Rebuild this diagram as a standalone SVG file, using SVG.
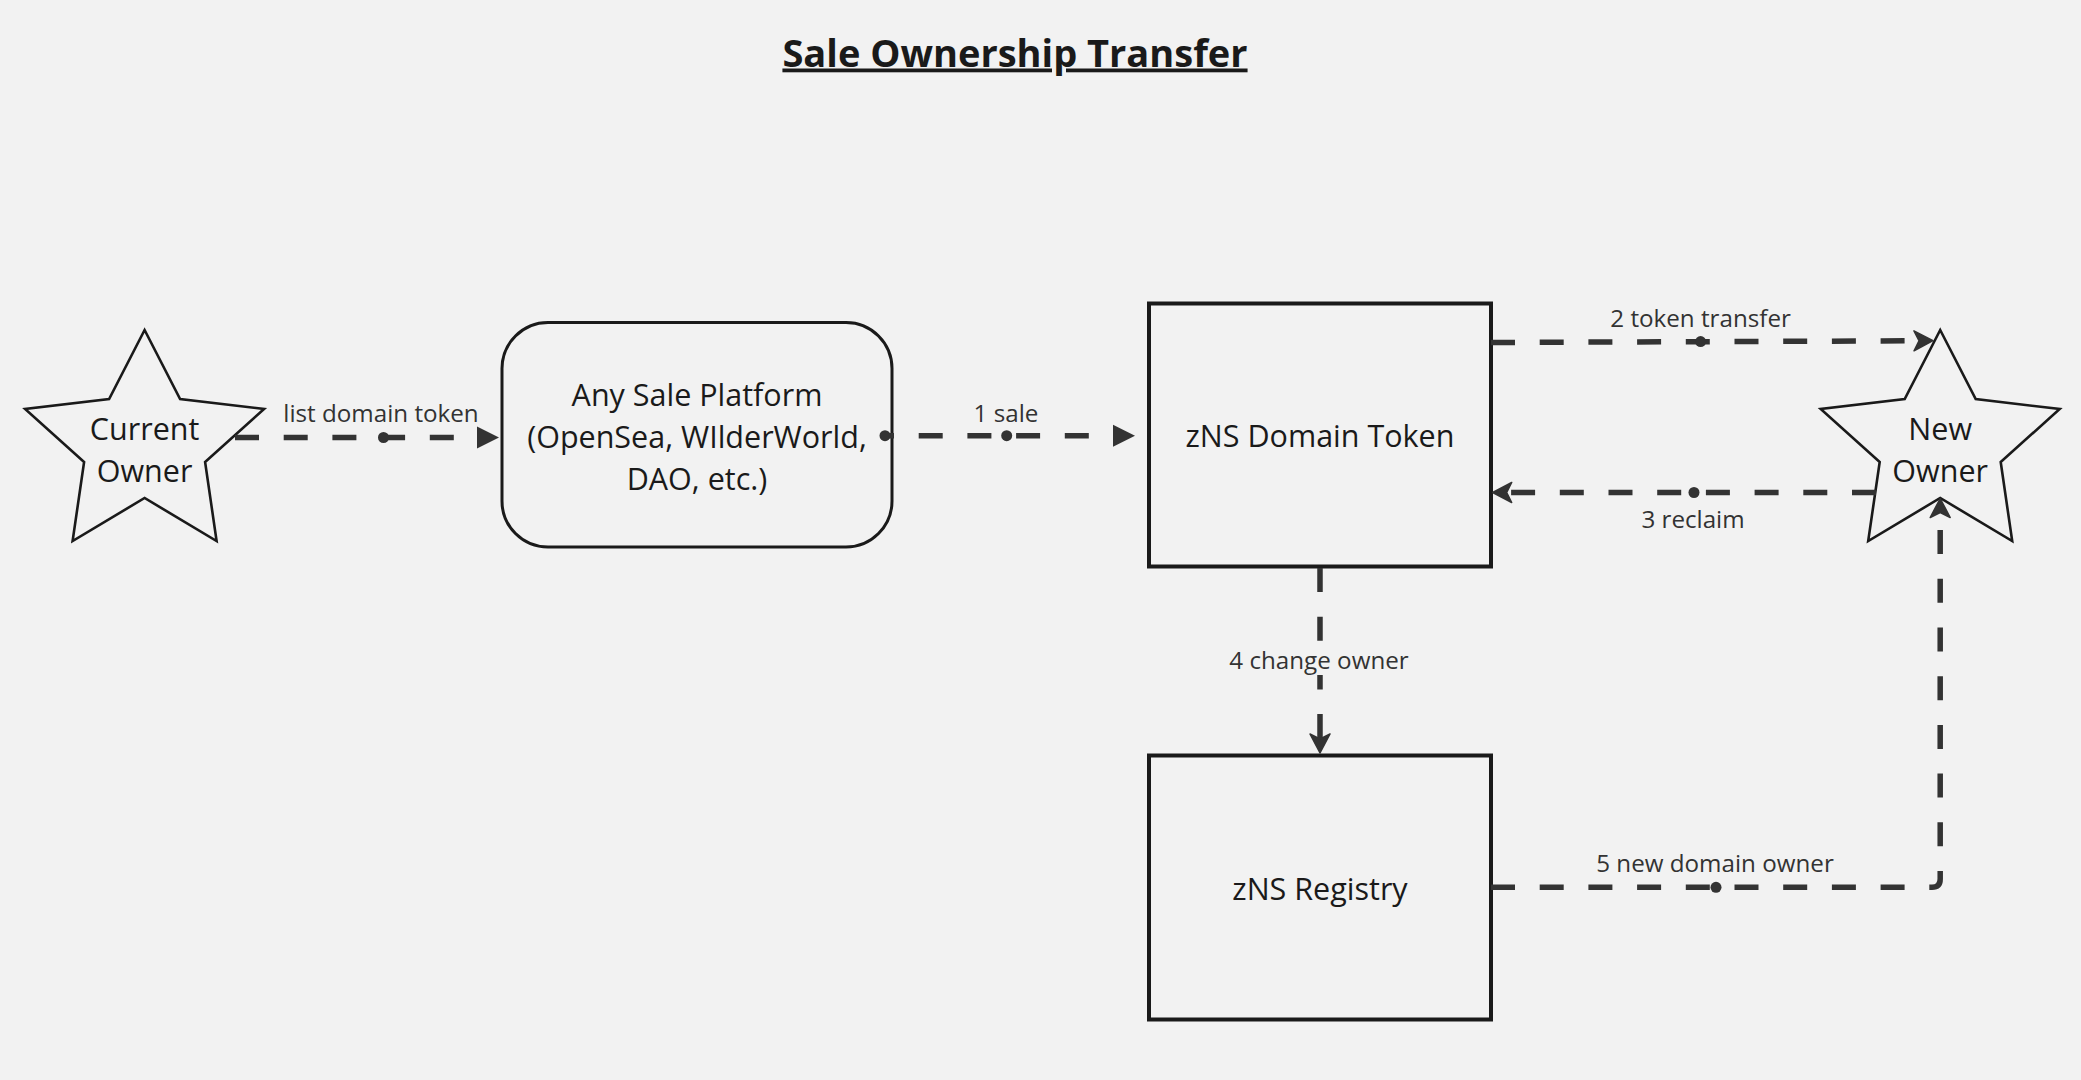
<svg xmlns="http://www.w3.org/2000/svg" width="2081" height="1080" viewBox="0 0 2081 1080">
<defs>
<style>
.bg{fill:#f2f2f2}
.shape{fill:#f2f2f2;stroke:#1a1a1a}
.star{stroke-width:2.6;stroke-linejoin:miter}
.box{stroke-width:4}
.rbox{stroke-width:3}
.ntext{font-family:"Open Sans","Noto Sans","Liberation Sans",sans-serif;font-size:30.5px;fill:#1a1a1a;text-anchor:middle}
.ltext{font-family:"Open Sans","Noto Sans","Liberation Sans",sans-serif;font-size:24.2px;fill:#333333;text-anchor:middle}
.title{font-family:"Open Sans","Noto Sans","Liberation Sans",sans-serif;font-size:38px;font-weight:bold;fill:#1a1a1a;text-anchor:middle;text-decoration:underline}
.conn{fill:none;stroke:#333333;stroke-width:5.5;stroke-dasharray:24 24.7}
.dot{fill:#333333}
</style>
<marker id="tri" viewBox="-23 -12 24 24" markerWidth="24" markerHeight="24" refX="0" refY="0" orient="auto" markerUnits="userSpaceOnUse">
<path d="M0,0 L-22,-11 L-22,11 Z" fill="#333333"/>
</marker>
<marker id="chev" viewBox="-21 -12 22 24" markerWidth="22" markerHeight="24" refX="0" refY="0" orient="auto" markerUnits="userSpaceOnUse">
<path d="M0,0 L-19,-10 L-14,0 L-19,10 Z" fill="#333333" stroke="#333333" stroke-width="1.5" stroke-linejoin="round"/>
</marker>
</defs>
<rect class="bg" x="0" y="0" width="2081" height="1080"/>
<text class="title" x="1015" y="66.5">Sale Ownership Transfer</text>

<g id="current-owner">
<polygon class="shape star" points="144.6,330 180.1,399 264.1,409 205.1,462 216.6,541 144.6,498 72.6,541 84.1,462 25.1,409 109.1,399"/>
<text class="ntext" x="144.6" y="440">Current</text>
<text class="ntext" x="144.6" y="482">Owner</text>
</g>

<g id="sale-platform">
<rect class="shape rbox" x="502" y="322.5" width="390" height="224.5" rx="46" ry="46"/>
<text class="ntext" x="697" y="405.5">Any Sale Platform</text>
<text class="ntext" x="697" y="447.5">(OpenSea, WIlderWorld,</text>
<text class="ntext" x="697" y="489.5">DAO, etc.)</text>
</g>

<g id="domain-token">
<rect class="shape box" x="1149" y="303.5" width="342" height="263"/>
<text class="ntext" x="1320" y="447">zNS Domain Token</text>
</g>

<g id="registry">
<rect class="shape box" x="1149" y="755.5" width="342" height="264"/>
<text class="ntext" x="1320" y="899.5">zNS Registry</text>
</g>

<g id="new-owner">
<polygon class="shape star" points="1940.2,330 1975.7,399 2059.7,409 2000.7,462 2012.2,541 1940.2,498 1868.2,541 1879.7,462 1820.7,409 1904.7,399"/>
<text class="ntext" x="1940.2" y="440">New</text>
<text class="ntext" x="1940.2" y="482">Owner</text>
</g>

<g id="connectors">
<g id="c-list">
<path class="conn" d="M235,437.5 H480"/>
<path d="M477,437.5 H499" stroke="none" marker-end="url(#tri)"/>
<circle class="dot" cx="383.5" cy="437.5" r="5.5"/>
<text class="ltext" x="381" y="421.5">list domain token</text>
</g>
<g id="c-sale">
<path class="conn" d="M885,435.7 H1113" style="stroke-dashoffset:15"/>
<path d="M1113,435.7 H1135" stroke="none" marker-end="url(#tri)"/>
<circle class="dot" cx="885" cy="435.7" r="5.5"/>
<circle class="dot" cx="1006.7" cy="435.7" r="5.5"/>
<text class="ltext" x="1006" y="421.5">1 sale</text>
</g>
<g id="c-transfer">
<path class="conn" d="M1491,342.5 L1920,340.8"/>
<path d="M1915,340.8 L1933,340.7" stroke="none" marker-end="url(#chev)"/>
<circle class="dot" cx="1700.6" cy="341.6" r="5.5"/>
<text class="ltext" x="1700.6" y="326.5">2 token transfer</text>
</g>
<g id="c-reclaim">
<path class="conn" d="M1876,492.5 H1506"/>
<path d="M1510,492.5 H1492.7" stroke="none" marker-end="url(#chev)"/>
<circle class="dot" cx="1694" cy="492.5" r="5.5"/>
<text class="ltext" x="1693" y="527.5">3 reclaim</text>
</g>
<g id="c-change">
<path class="conn" d="M1320,568 V740"/>
<rect class="bg" x="1220" y="646" width="200" height="29"/>
<text class="ltext" x="1319" y="668.5">4 change owner</text>
<path d="M1320,735 V753" stroke="none" marker-end="url(#chev)"/>
</g>
<g id="c-newowner">
<path class="conn" d="M1491,887.3 H1932 Q1940.2,887.3 1940.2,879 V512"/>
<path d="M1940.2,516 V498.5" stroke="none" marker-end="url(#chev)"/>
<circle class="dot" cx="1716" cy="887.3" r="5.5"/>
<text class="ltext" x="1715" y="871.5">5 new domain owner</text>
</g>
</g>
</svg>
